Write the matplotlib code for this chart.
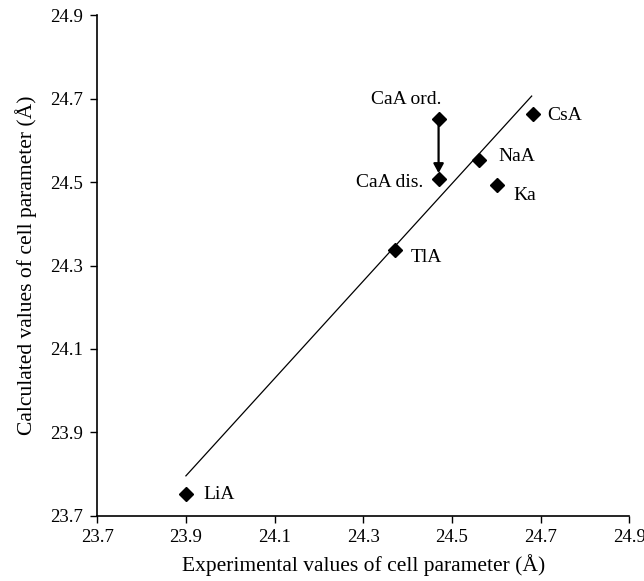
import matplotlib
matplotlib.use("Agg")
import matplotlib.pyplot as plt
import numpy as np

# Data
labels = ["LiA", "TlA", "CaA dis.", "CaA ord.", "NaA", "Ka", "CsA"]
exp_vals = [23.90, 24.372, 24.47, 24.47, 24.562, 24.601, 24.683]
calc_vals = [23.752, 24.337, 24.508, 24.651, 24.554, 24.493, 24.664]
fit_x = [23.90, 24.68]
fit_y = [23.796, 24.706]
ticks = [23.7, 23.9, 24.1, 24.3, 24.5, 24.7, 24.9]

# label offsets in points (dx, dy) and alignment
offsets = {
    "LiA": (12.7, 0.0, "left"),
    "TlA": (11.3, -5.5, "left"),
    "CaA dis.": (-10.8, -2.4, "right"),
    "CaA ord.": (2.0, 14.4, "right"),
    "NaA": (13.9, 2.4, "left"),
    "Ka": (12.0, -7.4, "left"),
    "CsA": (10.5, -1.4, "left"),
}

plt.rcParams['font.family'] = ['Liberation Serif', 'DejaVu Serif']

fig = plt.figure(figsize=(6.44, 5.81), dpi=100)
ax = fig.add_axes([0.151, 0.112, 0.826, 0.862])

ax.plot(fit_x, fit_y, color='black', lw=0.9)
ax.plot(exp_vals, calc_vals, linestyle='none', marker='D', ms=7.3,
        color='black')

for lab, x, y in zip(labels, exp_vals, calc_vals):
    dx, dy, ha = offsets[lab]
    ax.annotate(lab, (x, y), xytext=(dx, dy), textcoords='offset points',
                ha=ha, va='center', fontsize=14)

# Arrow from ordered to disordered CaA
i_ord = labels.index("CaA ord.")
i_dis = labels.index("CaA dis.")
ax.annotate("", xy=(exp_vals[i_dis], calc_vals[i_dis]),
            xytext=(exp_vals[i_ord], calc_vals[i_ord]),
            arrowprops=dict(arrowstyle='-|>,head_length=0.55,head_width=0.3',
                            color='black', lw=1.6, shrinkA=4, shrinkB=4))

ax.set_xlim(23.7, 24.9)
ax.set_ylim(23.7, 24.9)
ax.set_xticks(ticks)
ax.set_yticks(ticks)
ax.set_xticklabels([f"{t:.1f}" for t in ticks])
ax.set_yticklabels([f"{t:.1f}" for t in ticks])
ax.tick_params(direction='out', length=5, width=1.0, labelsize=13.5,
               colors='black')
ax.tick_params(axis='y', pad=5.5)
ax.tick_params(axis='x', pad=4.5)
for s in ['top', 'right']:
    ax.spines[s].set_visible(False)
for s in ['left', 'bottom']:
    ax.spines[s].set_linewidth(1.2)
    ax.spines[s].set_color('black')

ax.set_xlabel("Experimental values of cell parameter (Å)", fontsize=15.5,
              labelpad=6)
ax.set_ylabel("Calculated values of cell parameter (Å)", fontsize=15.5,
              labelpad=9)

fig.savefig("out.png", dpi=100)
